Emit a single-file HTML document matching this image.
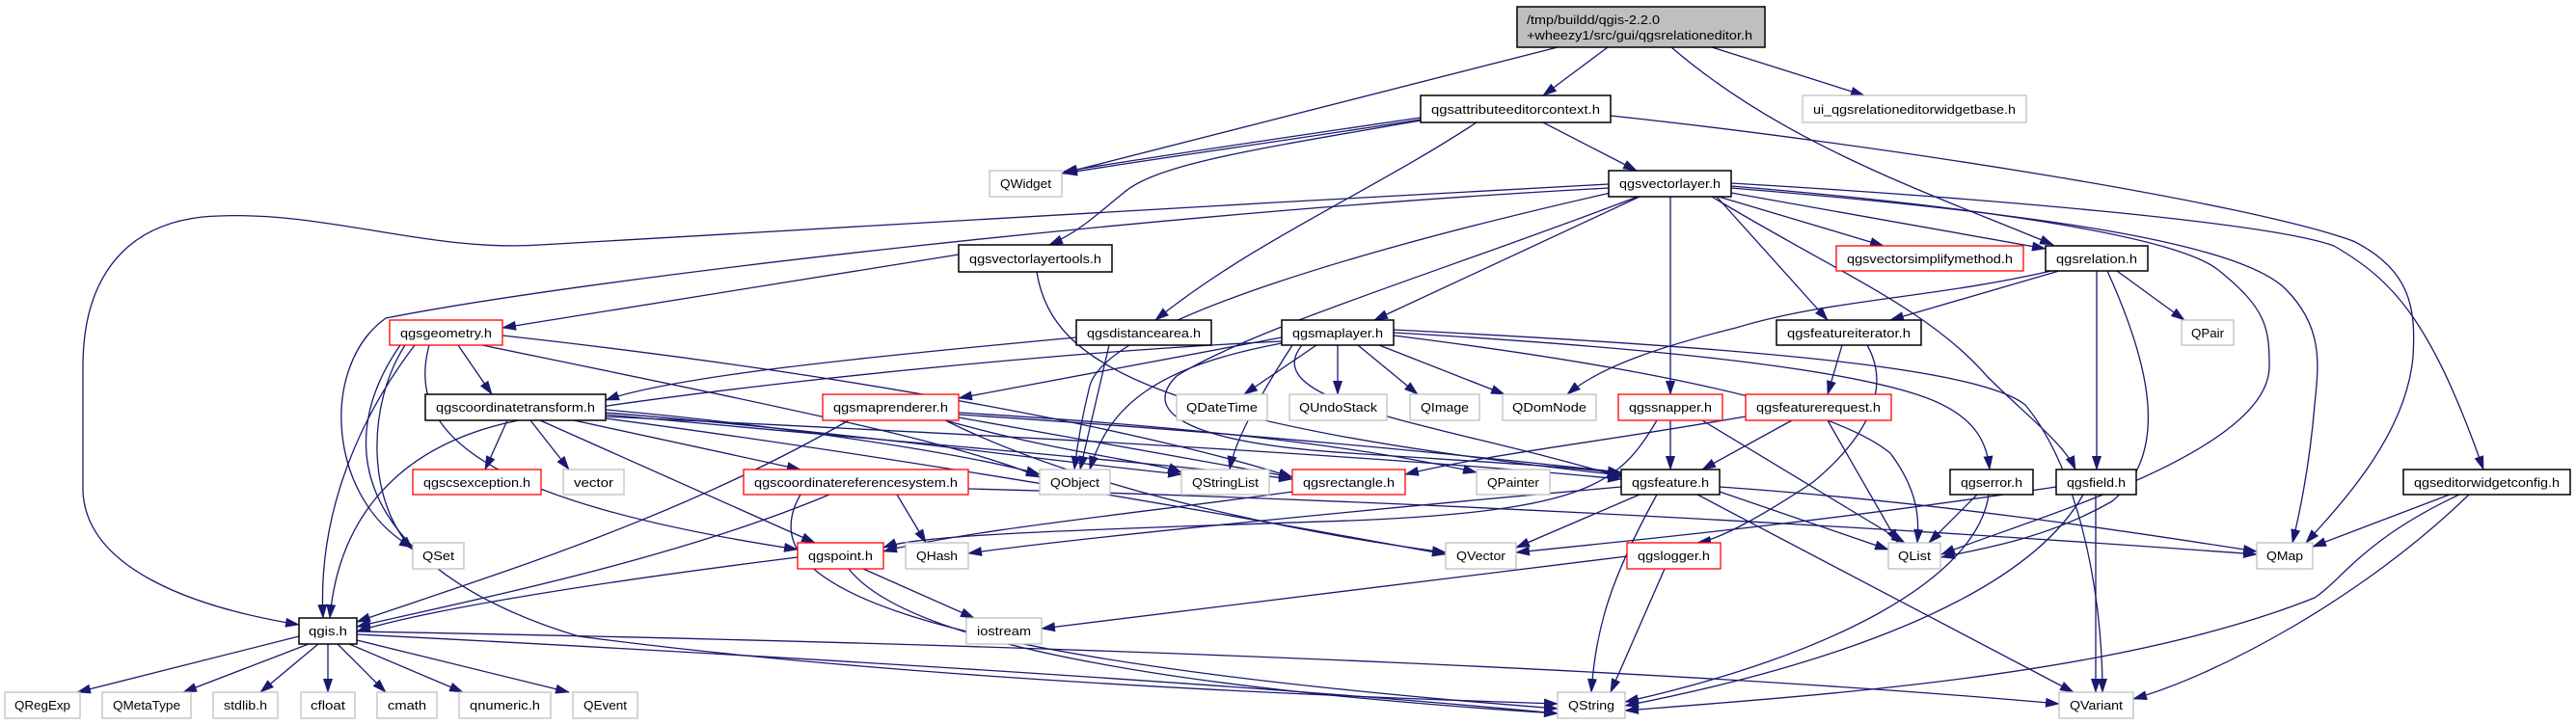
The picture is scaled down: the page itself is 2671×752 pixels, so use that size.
<!DOCTYPE html>
<html><head><meta charset="utf-8"><style>
html,body{margin:0;padding:0;background:#fff;}
svg{display:block}
text{font-family:"Liberation Sans",sans-serif;font-size:13px;fill:#000}
.e{fill:none;stroke:#191970;stroke-width:1.3}
.b{fill:#fff;stroke:#000;stroke-width:1.5}
.r{fill:#fff;stroke:#ff0000;stroke-width:1.3}
.g{fill:#fff;stroke:#bfbfbf;stroke-width:1.3}
</style></head><body>
<svg width="2671" height="752" viewBox="0 0 2671 752" xmlns="http://www.w3.org/2000/svg">
<defs><marker id="a" markerUnits="userSpaceOnUse" markerWidth="15" markerHeight="10" refX="14" refY="5" orient="auto"><path d="M0,0 L15,5 L0,10 z" fill="#191970"/></marker></defs>
<g class="e" marker-end="url(#a)">
<path d="M1615,49 L1101,180"/>
<path d="M1667,49 L1600,99"/>
<path d="M1733,49 C1850,150 2000,200 2129,254"/>
<path d="M1775,49 L1933,99"/>
<path d="M1473,122 C1350,140 1180,165 1103,178"/>
<path d="M1473,124 C1340,145 1160,170 1103,180"/>
<path d="M1473,125 C1300,155 1200,170 1165,200 C1140,220 1120,240 1088,254"/>
<path d="M1531,127 C1420,200 1300,250 1198,332"/>
<path d="M1600,127 L1697,177"/>
<path d="M1670,120 C1950,150 2330,210 2440,250 C2500,280 2505,320 2502,370 C2495,450 2430,520 2391,563"/>
<path d="M1668,191 C1300,210 1000,230 560,254 C440,262 330,215 210,225 C120,235 86,300 86,380 L86,510 C90,590 200,630 310,648"/>
<path d="M1668,195 C1200,220 600,290 400,330 C330,380 340,520 428,568"/>
<path d="M1795,193 C2000,210 2250,240 2300,280 C2350,320 2353,340 2353,380 C2353,470 2100,540 2013,575"/>
<path d="M1795,195 C2100,220 2320,250 2370,300 C2410,340 2404,380 2400,420 C2395,480 2385,530 2377,563"/>
<path d="M1795,190 C2050,205 2350,230 2420,255 C2480,290 2520,330 2575,487"/>
<path d="M1782,204 L1953,255"/>
<path d="M1795,200 L2121,258"/>
<path d="M1780,204 L1895,332"/>
<path d="M1775,204 C1900,280 2000,320 2060,390 C2100,430 2140,460 2152,487"/>
<path d="M1732,204 L1732,409"/>
<path d="M1700,204 L1425,332"/>
<path d="M1670,200 C1450,250 1150,330 1130,400 C1120,440 1116,470 1114,487"/>
<path d="M1698,204 C1500,280 1300,340 1220,390 C1180,430 1240,460 1400,470 C1550,480 1650,485 1681,492"/>
<path d="M2135,281 L1960,332"/>
<path d="M2195,281 L2265,332"/>
<path d="M2174,281 L2174,487"/>
<path d="M2185,281 C2230,380 2250,470 2190,520 C2120,560 2050,570 2013,578"/>
<path d="M2127,281 C2000,310 1900,310 1800,340 C1720,360 1660,380 1625,409"/>
<path d="M1910,358 L1895,409"/>
<path d="M1936,358 C1960,400 1940,450 1880,500 C1820,540 1780,560 1760,563"/>
<path d="M1858,436 L1765,487"/>
<path d="M1895,436 L1968,563"/>
<path d="M1810,432 C1650,460 1550,470 1457,492"/>
<path d="M1732,436 L1732,487"/>
<path d="M1765,436 L1975,563"/>
<path d="M1718,436 C1680,500 1650,530 1400,540 C1100,550 950,555 916,568"/>
<path d="M1700,513 L1572,568"/>
<path d="M1718,513 C1670,600 1655,650 1650,718"/>
<path d="M1783,510 L1958,570"/>
<path d="M1783,505 C2000,520 2200,550 2340,572"/>
<path d="M1760,513 L2150,718"/>
<path d="M1681,505 C1400,530 1100,560 1004,574"/>
<path d="M1687,577 L1080,652"/>
<path d="M1726,590 L1670,718"/>
<path d="M2050,513 L2000,563"/>
<path d="M2062,513 C2050,600 1900,680 1685,728"/>
<path d="M2173,513 L2173,718"/>
<path d="M2160,513 C2100,620 1900,690 1685,732"/>
<path d="M2132,505 C1900,540 1700,560 1572,573"/>
<path d="M2540,513 L2398,567"/>
<path d="M2550,513 C2450,560 2430,600 2400,620 C2200,700 1900,720 1685,737"/>
<path d="M2560,513 C2450,620 2300,700 2212,725"/>
<path d="M1365,358 L1290,409"/>
<path d="M1387,358 L1387,409"/>
<path d="M1408,358 L1470,409"/>
<path d="M1430,358 L1560,409"/>
<path d="M1329,350 L994,413"/>
<path d="M1329,354 C1000,370 600,420 520,440 C400,470 350,550 342,641"/>
<path d="M1329,356 C1200,380 1150,420 1130,487"/>
<path d="M1340,358 C1300,420 1280,460 1275,487"/>
<path d="M1445,345 C1700,360 1900,380 1990,410 C2050,430 2060,460 2063,487"/>
<path d="M1445,342 C1800,360 2050,380 2100,420 C2150,480 2180,600 2180,718"/>
<path d="M1445,348 C1700,380 1900,420 1960,470 C1990,510 1990,540 1988,563"/>
<path d="M1350,358 C1300,420 1500,440 1681,495"/>
<path d="M994,433 L1340,495"/>
<path d="M994,430 C1300,450 1500,470 1681,490"/>
<path d="M994,428 C1200,440 1400,460 1531,490"/>
<path d="M980,436 C1150,520 1400,560 1499,573"/>
<path d="M980,436 C1100,470 1200,480 1225,490"/>
<path d="M880,436 C700,540 500,600 370,645"/>
<path d="M1116,350 C900,370 700,390 628,415"/>
<path d="M1150,358 L1120,487"/>
<path d="M475,358 L510,409"/>
<path d="M430,358 C360,450 330,550 335,641"/>
<path d="M420,358 C380,420 380,520 428,570"/>
<path d="M445,358 C420,450 500,520 827,570"/>
<path d="M415,358 C330,480 400,600 600,660 C900,700 1300,720 1615,730"/>
<path d="M521,348 C900,390 1200,450 1340,495"/>
<path d="M500,358 C800,420 1000,460 1078,495"/>
<path d="M526,436 L503,487"/>
<path d="M550,436 L590,487"/>
<path d="M595,436 L830,487"/>
<path d="M560,436 L845,563"/>
<path d="M628,425 C800,440 1000,470 1078,492"/>
<path d="M628,428 C900,450 1100,480 1225,492"/>
<path d="M628,430 C950,460 1200,480 1340,497"/>
<path d="M628,432 C1000,450 1400,470 1681,497"/>
<path d="M628,434 C900,470 1200,520 1499,575"/>
<path d="M930,513 L960,563"/>
<path d="M860,513 C700,580 500,620 370,650"/>
<path d="M830,513 C780,600 900,680 1615,735"/>
<path d="M1004,507 C1500,520 2000,550 2340,575"/>
<path d="M827,578 C650,600 450,630 370,655"/>
<path d="M895,590 L1010,641"/>
<path d="M880,590 C950,680 1300,720 1615,740"/>
<path d="M1340,510 C1200,530 1000,550 916,572"/>
<path d="M310,660 L80,718"/>
<path d="M320,668 L190,718"/>
<path d="M330,668 L270,718"/>
<path d="M340,668 L340,718"/>
<path d="M350,668 L400,718"/>
<path d="M362,668 L480,718"/>
<path d="M370,664 L590,718"/>
<path d="M370,658 C800,680 1300,710 1615,740"/>
<path d="M370,655 C1200,670 1800,700 2135,730"/>
<path d="M994,264 L521,340"/>
<path d="M1075,282 C1090,380 1200,440 1681,493"/>
</g>
<rect x="1573" y="7" width="257" height="42" fill="#bfbfbf" stroke="#000" stroke-width="1.5"/>
<text x="1583" y="25" textLength="138" lengthAdjust="spacingAndGlyphs">/tmp/buildd/qgis-2.2.0</text>
<text x="1583" y="41" textLength="234" lengthAdjust="spacingAndGlyphs">+wheezy1/src/gui/qgsrelationeditor.h</text>
<g>
<rect class="b" x="1473" y="99" width="197" height="28"/><text x="1484" y="118" textLength="175" lengthAdjust="spacingAndGlyphs">qgsattributeeditorcontext.h</text>
<rect class="g" x="1869" y="99" width="232" height="28"/><text x="1880" y="118" textLength="210" lengthAdjust="spacingAndGlyphs">ui_qgsrelationeditorwidgetbase.h</text>
<rect class="g" x="1026" y="177" width="75" height="27"/><text x="1037" y="195" textLength="53" lengthAdjust="spacingAndGlyphs">QWidget</text>
<rect class="b" x="1668" y="177" width="127" height="27"/><text x="1679" y="195" textLength="105" lengthAdjust="spacingAndGlyphs">qgsvectorlayer.h</text>
<rect class="b" x="994" y="254" width="159" height="28"/><text x="1005" y="273" textLength="137" lengthAdjust="spacingAndGlyphs">qgsvectorlayertools.h</text>
<rect class="r" x="1904" y="255" width="194" height="26"/><text x="1915" y="273" textLength="172" lengthAdjust="spacingAndGlyphs">qgsvectorsimplifymethod.h</text>
<rect class="b" x="2121" y="255" width="106" height="26"/><text x="2132" y="273" textLength="84" lengthAdjust="spacingAndGlyphs">qgsrelation.h</text>
<rect class="r" x="404" y="332" width="117" height="26"/><text x="415" y="350" textLength="95" lengthAdjust="spacingAndGlyphs">qgsgeometry.h</text>
<rect class="b" x="1116" y="332" width="140" height="26"/><text x="1127" y="350" textLength="118" lengthAdjust="spacingAndGlyphs">qgsdistancearea.h</text>
<rect class="b" x="1329" y="332" width="116" height="26"/><text x="1340" y="350" textLength="94" lengthAdjust="spacingAndGlyphs">qgsmaplayer.h</text>
<rect class="b" x="1842" y="332" width="150" height="26"/><text x="1853" y="350" textLength="128" lengthAdjust="spacingAndGlyphs">qgsfeatureiterator.h</text>
<rect class="g" x="2262" y="332" width="54" height="26"/><text x="2272" y="350" textLength="34" lengthAdjust="spacingAndGlyphs">QPair</text>
<rect class="b" x="441" y="409" width="187" height="27"/><text x="452" y="427" textLength="165" lengthAdjust="spacingAndGlyphs">qgscoordinatetransform.h</text>
<rect class="r" x="853" y="409" width="141" height="27"/><text x="864" y="427" textLength="119" lengthAdjust="spacingAndGlyphs">qgsmaprenderer.h</text>
<rect class="g" x="1220" y="409" width="94" height="27"/><text x="1230" y="427" textLength="74" lengthAdjust="spacingAndGlyphs">QDateTime</text>
<rect class="g" x="1337" y="409" width="101" height="27"/><text x="1347" y="427" textLength="81" lengthAdjust="spacingAndGlyphs">QUndoStack</text>
<rect class="g" x="1462" y="409" width="72" height="27"/><text x="1473" y="427" textLength="50" lengthAdjust="spacingAndGlyphs">QImage</text>
<rect class="g" x="1558" y="409" width="97" height="27"/><text x="1568" y="427" textLength="77" lengthAdjust="spacingAndGlyphs">QDomNode</text>
<rect class="r" x="1678" y="409" width="108" height="27"/><text x="1689" y="427" textLength="86" lengthAdjust="spacingAndGlyphs">qgssnapper.h</text>
<rect class="r" x="1810" y="409" width="151" height="27"/><text x="1821" y="427" textLength="129" lengthAdjust="spacingAndGlyphs">qgsfeaturerequest.h</text>
<rect class="r" x="428" y="487" width="133" height="26"/><text x="439" y="505" textLength="111" lengthAdjust="spacingAndGlyphs">qgscsexception.h</text>
<rect class="g" x="584" y="487" width="63" height="26"/><text x="595" y="505" textLength="41" lengthAdjust="spacingAndGlyphs">vector</text>
<rect class="r" x="771" y="487" width="233" height="26"/><text x="782" y="505" textLength="211" lengthAdjust="spacingAndGlyphs">qgscoordinatereferencesystem.h</text>
<rect class="g" x="1078" y="487" width="73" height="26"/><text x="1089" y="505" textLength="51" lengthAdjust="spacingAndGlyphs">QObject</text>
<rect class="g" x="1225" y="487" width="91" height="26"/><text x="1236" y="505" textLength="69" lengthAdjust="spacingAndGlyphs">QStringList</text>
<rect class="r" x="1340" y="487" width="117" height="26"/><text x="1351" y="505" textLength="95" lengthAdjust="spacingAndGlyphs">qgsrectangle.h</text>
<rect class="g" x="1531" y="487" width="76" height="26"/><text x="1542" y="505" textLength="54" lengthAdjust="spacingAndGlyphs">QPainter</text>
<rect class="b" x="1681" y="487" width="102" height="26"/><text x="1692" y="505" textLength="80" lengthAdjust="spacingAndGlyphs">qgsfeature.h</text>
<rect class="b" x="2022" y="487" width="86" height="26"/><text x="2033" y="505" textLength="64" lengthAdjust="spacingAndGlyphs">qgserror.h</text>
<rect class="b" x="2132" y="487" width="83" height="26"/><text x="2143" y="505" textLength="61" lengthAdjust="spacingAndGlyphs">qgsfield.h</text>
<rect class="b" x="2492" y="487" width="173" height="26"/><text x="2503" y="505" textLength="151" lengthAdjust="spacingAndGlyphs">qgseditorwidgetconfig.h</text>
<rect class="g" x="428" y="563" width="53" height="27"/><text x="438" y="581" textLength="33" lengthAdjust="spacingAndGlyphs">QSet</text>
<rect class="r" x="827" y="563" width="89" height="27"/><text x="838" y="581" textLength="67" lengthAdjust="spacingAndGlyphs">qgspoint.h</text>
<rect class="g" x="939" y="563" width="65" height="27"/><text x="950" y="581" textLength="43" lengthAdjust="spacingAndGlyphs">QHash</text>
<rect class="g" x="1499" y="563" width="73" height="27"/><text x="1510" y="581" textLength="51" lengthAdjust="spacingAndGlyphs">QVector</text>
<rect class="r" x="1687" y="563" width="97" height="27"/><text x="1698" y="581" textLength="75" lengthAdjust="spacingAndGlyphs">qgslogger.h</text>
<rect class="g" x="1958" y="563" width="54" height="27"/><text x="1968" y="581" textLength="34" lengthAdjust="spacingAndGlyphs">QList</text>
<rect class="g" x="2340" y="563" width="58" height="27"/><text x="2350" y="581" textLength="38" lengthAdjust="spacingAndGlyphs">QMap</text>
<rect class="b" x="310" y="641" width="60" height="27"/><text x="320" y="659" textLength="40" lengthAdjust="spacingAndGlyphs">qgis.h</text>
<rect class="g" x="1002" y="641" width="78" height="27"/><text x="1013" y="659" textLength="56" lengthAdjust="spacingAndGlyphs">iostream</text>
<rect class="g" x="5" y="718" width="78" height="27"/><text x="15" y="736" textLength="58" lengthAdjust="spacingAndGlyphs">QRegExp</text>
<rect class="g" x="106" y="718" width="92" height="27"/><text x="117" y="736" textLength="70" lengthAdjust="spacingAndGlyphs">QMetaType</text>
<rect class="g" x="221" y="718" width="67" height="27"/><text x="232" y="736" textLength="45" lengthAdjust="spacingAndGlyphs">stdlib.h</text>
<rect class="g" x="312" y="718" width="56" height="27"/><text x="322" y="736" textLength="36" lengthAdjust="spacingAndGlyphs">cfloat</text>
<rect class="g" x="391" y="718" width="62" height="27"/><text x="402" y="736" textLength="40" lengthAdjust="spacingAndGlyphs">cmath</text>
<rect class="g" x="476" y="718" width="95" height="27"/><text x="487" y="736" textLength="73" lengthAdjust="spacingAndGlyphs">qnumeric.h</text>
<rect class="g" x="594" y="718" width="67" height="27"/><text x="605" y="736" textLength="45" lengthAdjust="spacingAndGlyphs">QEvent</text>
<rect class="g" x="1615" y="718" width="70" height="27"/><text x="1626" y="736" textLength="48" lengthAdjust="spacingAndGlyphs">QString</text>
<rect class="g" x="2135" y="718" width="77" height="27"/><text x="2146" y="736" textLength="55" lengthAdjust="spacingAndGlyphs">QVariant</text>
</g>
</svg>
</body></html>
